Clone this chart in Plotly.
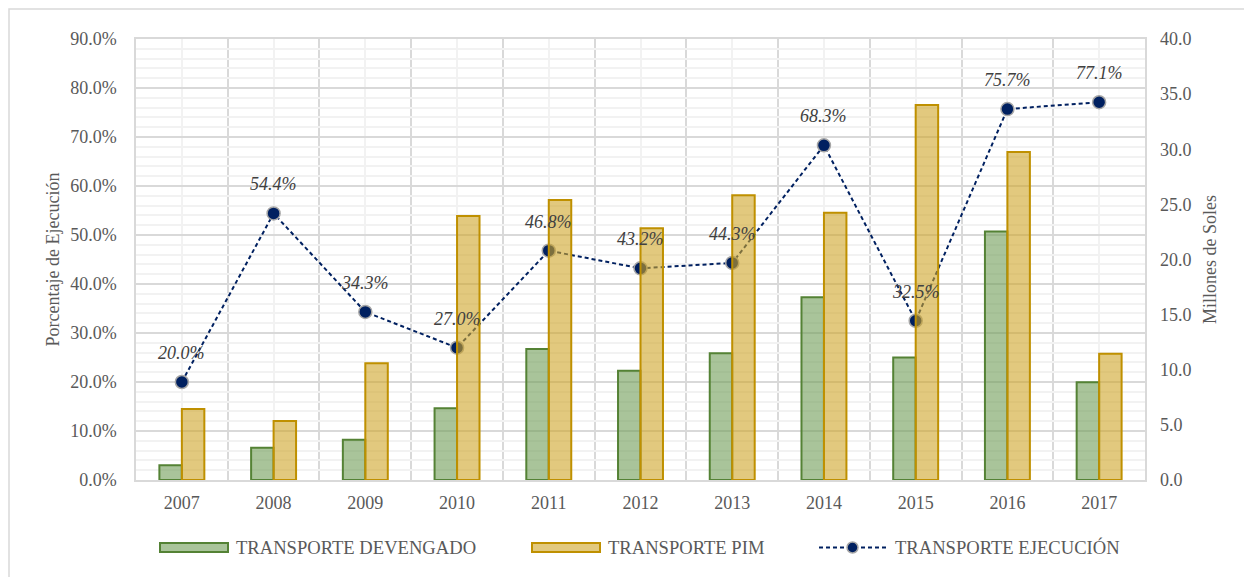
import plotly.graph_objects as go

years = ["2007", "2008", "2009", "2010", "2011", "2012", "2013", "2014", "2015", "2016", "2017"]
devengado = [1.33, 2.93, 3.66, 6.50, 11.88, 9.92, 11.49, 16.57, 11.10, 22.55, 8.86]
pim = [6.44, 5.35, 10.58, 23.94, 25.40, 22.83, 25.82, 24.25, 34.01, 29.75, 11.46]
ejecucion = [20.0, 54.4, 34.3, 27.0, 46.8, 43.2, 44.3, 68.3, 32.5, 75.7, 77.1]
left_ticks = [0, 10, 20, 30, 40, 50, 60, 70, 80, 90]
right_ticks = [0, 5, 10, 15, 20, 25, 30, 35, 40]

FONT = "Liberation Serif"
TXT = "#595959"
GRID = "#d9d9d9"
NAVY = "#002060"
GREEN_FILL = "rgba(112,157,87,0.6)"
GREEN_LINE = "#548235"
GOLD_FILL = "rgba(207,165,40,0.6)"
GOLD_LINE = "#bf9000"

xs = list(range(len(years)))

# page offset (browser body margin)
OFF = 8
PL, PT, PW, PH = 136, 39, 1009, 441

fig = go.Figure()
fig.add_trace(go.Bar(x=xs, y=devengado, name="TRANSPORTE DEVENGADO", yaxis="y2",
                     marker=dict(color=GREEN_FILL, line=dict(color=GREEN_LINE, width=2)),
                     offsetgroup="a"))
fig.add_trace(go.Bar(x=xs, y=pim, name="TRANSPORTE PIM", yaxis="y2",
                     marker=dict(color=GOLD_FILL, line=dict(color=GOLD_LINE, width=2)),
                     offsetgroup="b"))
fig.add_trace(go.Scatter(x=xs, y=ejecucion, name="TRANSPORTE EJECUCIÓN", yaxis="y",
                         mode="lines+markers",
                         line=dict(color=NAVY, width=2, dash="4px,3px"),
                         marker=dict(color=NAVY, size=13, line=dict(color="#a6a6a6", width=1.5))))

for i, v in enumerate(ejecucion):
    fig.add_annotation(x=xs[i], y=v, xref="x", yref="y", text=f"{v:.1f}%",
                       showarrow=False, yshift=29,
                       font=dict(family=FONT, size=18, color="#404040", style="italic"))

# custom legend (screen pixel -> paper coords)
def px_x(p):
    return (p - PL) / float(PW)

def px_y(p):
    return (PT + PH - p) / float(PH)

legend_items = [
    ("rect", GREEN_FILL, GREEN_LINE, 160, 228, 234, "TRANSPORTE DEVENGADO"),
    ("rect", GOLD_FILL, GOLD_LINE, 532, 600, 606, "TRANSPORTE PIM"),
    ("line", NAVY, NAVY, 819, 886, 893, "TRANSPORTE EJECUCIÓN"),
]
ly = 547.5
for kind, fill, line, x0, x1, tx, label in legend_items:
    if kind == "rect":
        fig.add_shape(type="rect", xref="paper", yref="paper",
                      x0=px_x(x0), x1=px_x(x1), y0=px_y(ly + 4.5), y1=px_y(ly - 4.5),
                      fillcolor=fill, line=dict(color=line, width=2), layer="above")
    else:
        fig.add_shape(type="line", xref="paper", yref="paper",
                      x0=px_x(x0), x1=px_x(x1), y0=px_y(ly), y1=px_y(ly),
                      line=dict(color=NAVY, width=2, dash="4px,3px"), layer="above")
        cx = (x0 + x1) / 2
        fig.add_shape(type="circle", xref="paper", yref="paper",
                      x0=px_x(cx - 5.5), x1=px_x(cx + 5.5), y0=px_y(ly + 5.5), y1=px_y(ly - 5.5),
                      fillcolor=NAVY, line=dict(color="#a6a6a6", width=1.5), layer="above")
    fig.add_annotation(x=px_x(tx), y=px_y(ly), xref="paper", yref="paper", text=label,
                       showarrow=False, xanchor="left", yanchor="middle",
                       font=dict(family=FONT, size=18.6, color=TXT))

# outer frame
fig.add_shape(type="rect", xref="paper", yref="paper",
              x0=px_x(9), x1=px_x(1280), y0=px_y(620), y1=px_y(9),
              line=dict(color=GRID, width=1.5), fillcolor="rgba(0,0,0,0)", layer="below")

fig.update_layout(
    width=1252, height=577,
    margin=dict(l=PL - OFF, r=1252 - (PL - OFF) - PW, t=PT - OFF, b=577 - (PT - OFF) - PH,
                autoexpand=False),
    paper_bgcolor="white", plot_bgcolor="white",
    barmode="group", bargap=0.51, bargroupgap=0,
    showlegend=False,
    font=dict(family=FONT, size=18, color=TXT),
    xaxis=dict(range=[-0.5, len(years) - 0.5], tickmode="array", tickvals=xs, ticktext=years,
               showgrid=True, gridcolor="#f2f2f2", gridwidth=1.5,
               minor=dict(tickmode="array", tickvals=[i - 0.5 for i in range(len(years) + 1)],
                          showgrid=True, gridcolor=GRID, gridwidth=1.5),
               showline=True, linecolor=GRID, linewidth=1.5, mirror=True,
               ticks="", zeroline=False, tickfont=dict(size=18, color=TXT),
               ticklabelstandoff=6),
    yaxis=dict(range=[0, 90], tickmode="array", tickvals=left_ticks,
               ticktext=[f"{v:.1f}%" for v in left_ticks],
               showgrid=True, gridcolor=GRID, gridwidth=1.5,
               minor=dict(dtick=2, tick0=0, showgrid=True, gridcolor="#f2f2f2", gridwidth=1.5),
               showline=True, linecolor=GRID, linewidth=1.5, mirror=True,
               zeroline=False, ticks="", ticklabelstandoff=14,
               title=dict(text="Porcentaje de Ejecución", standoff=6, font=dict(size=18, color=TXT)),
               tickfont=dict(size=18, color=TXT)),
    yaxis2=dict(range=[0, 40], overlaying="y", side="right", tickmode="array", tickvals=right_ticks,
                ticktext=[f"{v:.1f}" for v in right_ticks],
                showgrid=False, zeroline=False, ticks="", ticklabelstandoff=14,
                title=dict(text="Millones de Soles", standoff=12, font=dict(size=18, color=TXT)),
                tickfont=dict(size=18, color=TXT)),
)

fig.write_html("out.html")
